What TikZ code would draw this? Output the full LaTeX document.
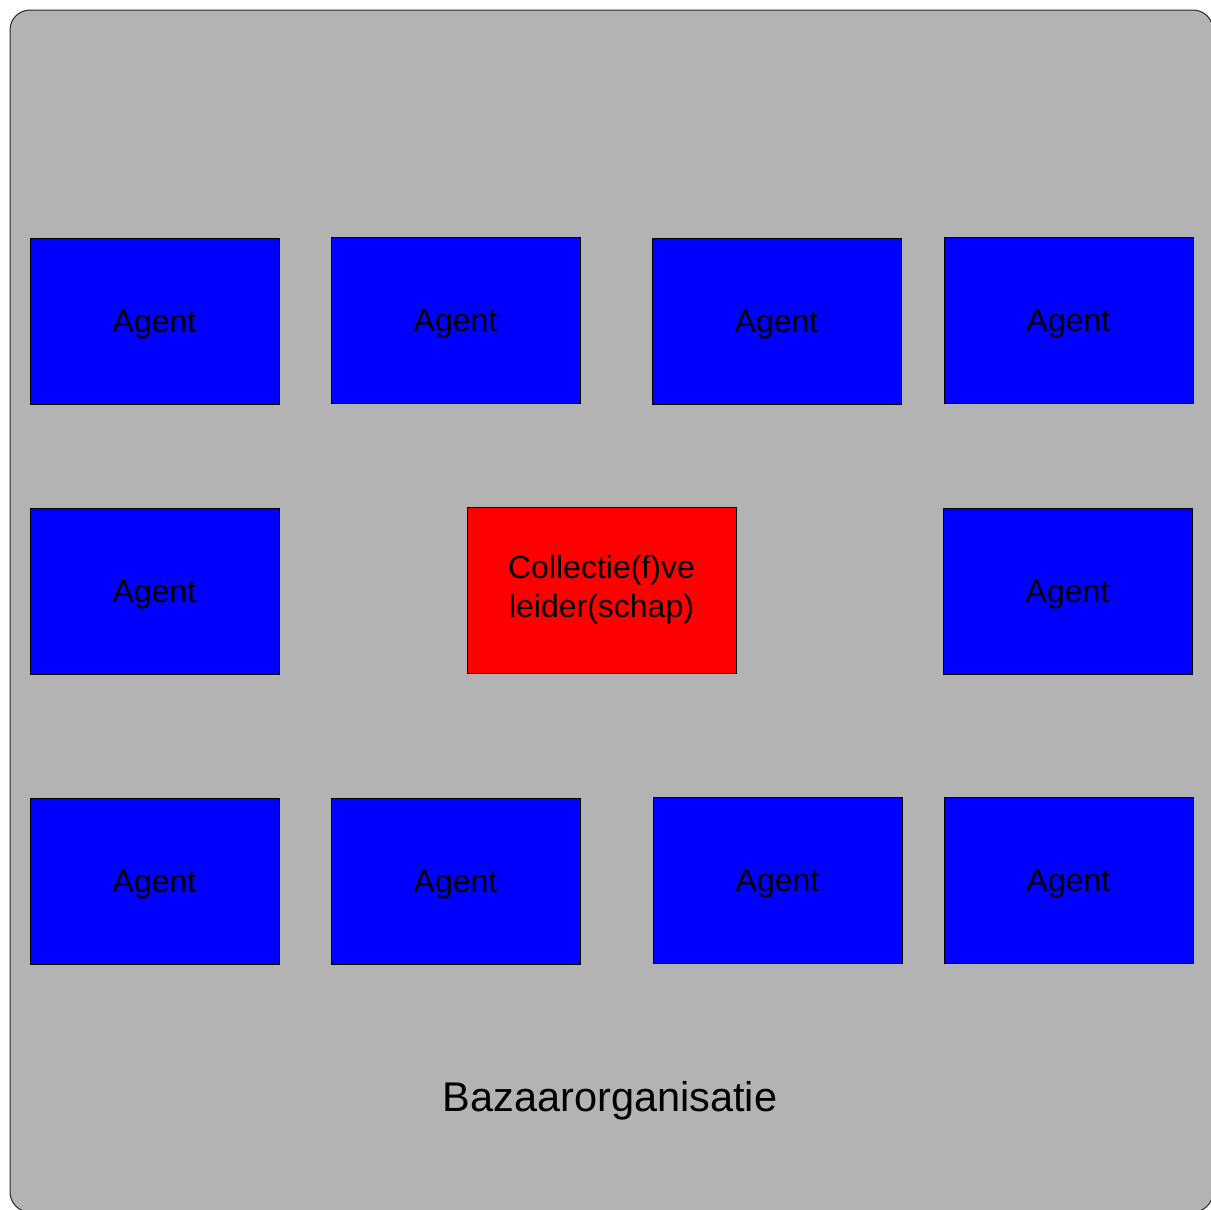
\documentclass[tikz,border=0pt]{standalone}
\usepackage{fontspec}
\setmainfont{Liberation Sans}
\begin{document}
\begin{tikzpicture}[x=1pt,y=-1pt,
  agentbox/.style={draw=black, line width=0.8pt, fill={rgb,255:red,0;green,0;blue,255}, minimum width=249pt, minimum height=166pt, inner sep=0pt, text height=29pt, text depth=6.8pt, font=\fontsize{32}{38}\selectfont, anchor=center},
  leaderbox/.style={draw=black, line width=0.8pt, fill={rgb,255:red,255;green,0;blue,0}, minimum width=269pt, minimum height=166pt, inner sep=0pt, align=center, font=\fontsize{32}{39}\selectfont, anchor=center}]
\useasboundingbox (0,0) rectangle (1211,1210);
\draw[fill={rgb,255:red,179;green,179;blue,179}, draw={rgb,255:red,40;green,40;blue,40}, line width=1pt, rounded corners=20pt] (10,10) rectangle (1213,1212);
% row 1
\node[agentbox] (a1) at (154.5,321) {Agent};
\node[agentbox] (a2) at (455.5,320) {Agent};
\node[agentbox] (a3) at (776.5,321) {Agent};
\node[agentbox] (a4) at (1068.5,320) {Agent};
% row 2
\node[agentbox] (a5) at (154.5,591) {Agent};
\node[leaderbox] (lead) at (601.5,590) {Collectie(f)ve\\leider(schap)};
\node[agentbox] (a6) at (1067.5,591) {Agent};
% row 3
\node[agentbox] (a7) at (154.5,881.5) {Agent};
\node[agentbox] (a8) at (455.5,881.5) {Agent};
\node[agentbox] (a9) at (777.5,880.5) {Agent};
\node[agentbox] (a10) at (1068.5,880.5) {Agent};
\node[font=\fontsize{41.5}{48}\selectfont] (title) at (610,1101) {Bazaarorganisatie};
\end{tikzpicture}
\end{document}
